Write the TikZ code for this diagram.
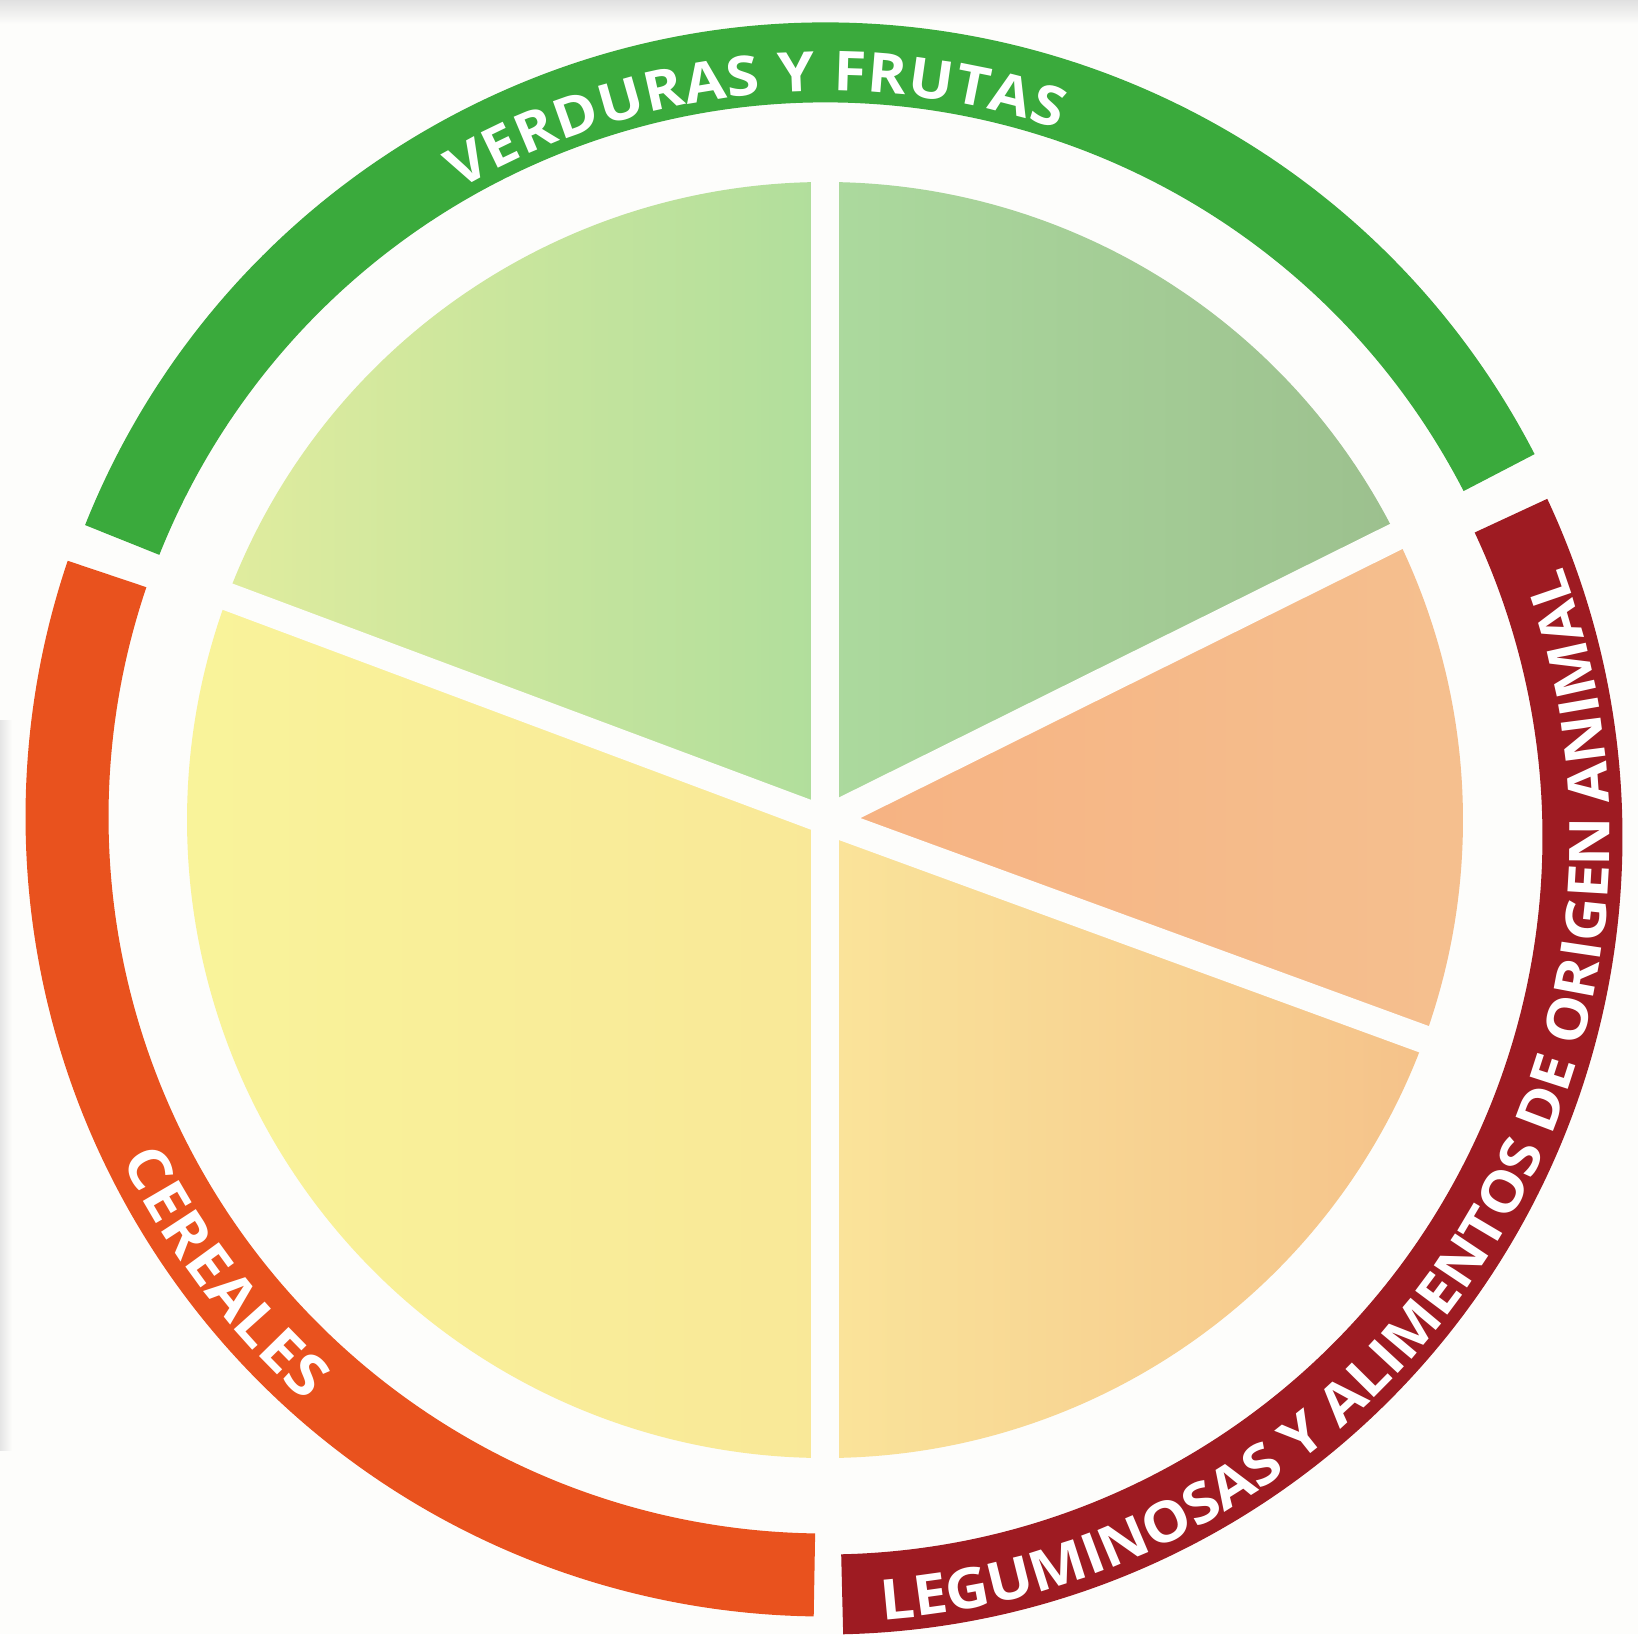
\documentclass[tikz,border=0pt]{standalone}
\usepackage{graphicx}
\usepackage{fontspec}
\newfontfamily\osans{Open Sans}
\definecolor{bgwhite}{RGB}{253,253,251}
\definecolor{ringgreen}{RGB}{58,170,60}
\definecolor{ringred}{RGB}{233,82,30}
\definecolor{ringdark}{RGB}{158,27,34}
\definecolor{vgLa}{RGB}{224,236,158}
\definecolor{vgLb}{RGB}{176,222,156}
\definecolor{vgRa}{RGB}{172,218,158}
\definecolor{vgRb}{RGB}{156,192,142}
\definecolor{orA}{RGB}{246,178,130}
\definecolor{orB}{RGB}{245,192,143}
\definecolor{loA}{RGB}{250,228,154}
\definecolor{loB}{RGB}{245,194,138}
\definecolor{yeA}{RGB}{249,244,154}
\definecolor{yeB}{RGB}{249,232,152}
\newbox\arcbox
\newcommand\wideglyph[1]{\scalebox{1.08}[1]{#1}}
\newcommand\arcmeasure[1]{%
  \pgfinterruptpicture\global\setbox\arcbox=\hbox{\arcfont\wideglyph{#1}}\endpgfinterruptpicture
  \edef\arcW{\the\wd\arcbox}}
\def\arcfont{\osans\bfseries\fontsize{55pt}{60pt}\selectfont}
% #1 centre, #2 radius, #3 start angle, #4 end angle, #5 rotation offset, #6 letters
\newcommand\arctext[6]{%
  \gdef\arcTotW{0}\gdef\arcCnt{0}%
  \foreach \ch in {#6}{%
    \arcmeasure{\ch}%
    \pgfmathsetmacro\arcTmp{\arcTotW+\arcW}\xdef\arcTotW{\arcTmp}%
    \pgfmathtruncatemacro\arcTmpC{\arcCnt+1}\xdef\arcCnt{\arcTmpC}}%
  \pgfmathsetmacro\arcDir{sign(#4-#3)}%
  \pgfmathsetmacro\arcTrack{(abs(#4-#3)*pi/180*#2-\arcTotW)/(\arcCnt-1)}%
  \xdef\arcCur{#3}%
  \foreach \ch in {#6}{%
    \arcmeasure{\ch}%
    \pgfmathsetmacro\arcStep{\arcW*180/(pi*#2)}%
    \pgfmathsetmacro\arcMid{\arcCur+\arcDir*\arcStep/2}%
    \pgfmathsetmacro\arcRot{\arcMid+(#5)}%
    \node[arcletter, rotate=\arcRot] at ([shift={(\arcMid:#2pt)}]#1) {\wideglyph{\ch}};%
    \pgfmathsetmacro\arcNext{\arcCur+\arcDir*(\arcStep+\arcTrack*180/(pi*#2))}%
    \xdef\arcCur{\arcNext}}%
}
\begin{document}
\begin{tikzpicture}[x=1pt,y=1pt,
  ringband/.style={line width=80pt},
  gapline/.style={bgwhite, line width=28pt},
  sector/.style={draw=none},
  arcletter/.style={font=\arcfont, text=white, inner sep=0pt, outer sep=0pt, anchor=base}]
\useasboundingbox (0,-1634) rectangle (1638,0);
\fill[bgwhite] (0,-1634) rectangle (1638,0);
\shade[top color=black!12, bottom color=bgwhite] (0,0) rectangle (1638,-24);
\shade[left color=black!10, right color=bgwhite] (0,-720) rectangle (12,-1450);
% centres
\coordinate (gc) at (826,-820);
\coordinate (rc) at (825,-817);
\coordinate (dc) at (825,-837);
\coordinate (pc) at (825,-820);
% pie sectors
\shade[sector, left color=vgLa, right color=vgLb] (pc) -- ++(90:638pt) arc[start angle=90, end angle=159.5, radius=638pt] -- cycle;
\shade[sector, left color=vgRa, right color=vgRb] (pc) -- ++(26.4:638pt) arc[start angle=26.4, end angle=90, radius=638pt] -- cycle;
\shade[sector, left color=orA, right color=orB] (pc) -- ++(-20.1:638pt) arc[start angle=-20.1, end angle=26.4, radius=638pt] -- cycle;
\shade[sector, left color=loA, right color=loB] (pc) -- ++(-90:638pt) arc[start angle=-90, end angle=-20.1, radius=638pt] -- cycle;
\shade[sector, left color=yeA, right color=yeB] (pc) -- ++(159.5:638pt) arc[start angle=159.5, end angle=270, radius=638pt] -- cycle;
% gaps between sectors
\foreach \a/\n in {90/ga,270/gb,159.5/gc2,26.4/gd,-20.1/ge}{
  \coordinate (\n) at ([shift={(\a:665pt)}]pc);
  \draw[gapline] (pc) -- (\n);
}
% outer ring
\draw[ringband, ringgreen] (gc) ++(27.3:757.5pt) arc[start angle=27.3, end angle=158.3, radius=757.5pt];
\draw[ringband, ringred, line width=83pt] (rc) ++(161.3:758pt) arc[start angle=161.3, end angle=269.2, radius=758pt];
\draw[ringband, ringdark] (dc) ++(271.3:757.5pt) arc[start angle=271.3, end angle=385.1, radius=757.5pt];
% labels
\arctext{gc}{729}{120.2}{71.4}{-90}{V,E,R,D,U,R,A,S,~,Y,~,F,R,U,T,A,S}
\def\arcfont{\osans\bfseries\fontsize{58pt}{62pt}\selectfont}
\arctext{rc}{782}{206}{228.4}{90}{C,E,R,E,A,L,E,S}
\def\arcfont{\osans\bfseries\fontsize{56pt}{62pt}\selectfont}
\arctext{dc}{785}{274.2}{380.2}{90}{L,E,G,U,M,I,N,O,S,A,S,~,Y,~,A,L,I,M,E,N,T,O,S,~,D,E,~,O,R,I,G,E,N,~,A,N,I,M,A,L}
\end{tikzpicture}
\end{document}
